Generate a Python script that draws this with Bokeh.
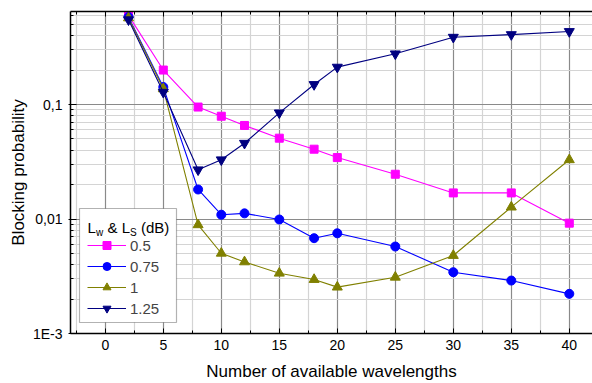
from bokeh.plotting import figure
from bokeh.models import (FixedTicker, LinearAxis, Legend, LegendItem, BoxAnnotation,
                          Range1d, Label, CustomJSTickFormatter, Node)
from bokeh.embed import file_html
from bokeh.resources import INLINE

# ---- data ----
wavelengths = [2, 5, 8, 10, 12, 15, 18, 20, 25, 30, 35, 40]
pb_050 = [0.60, 0.200, 0.095, 0.079, 0.0656, 0.0508, 0.0407, 0.0344, 0.0246, 0.0169, 0.0169, 0.0092]
pb_075 = [0.58, 0.142, 0.0181, 0.0109, 0.0112, 0.0099, 0.0068, 0.0075, 0.00575, 0.00343, 0.0029, 0.00222]
pb_100 = [0.57, 0.137, 0.0089, 0.00502, 0.00422, 0.00336, 0.00296, 0.00254, 0.0031, 0.0048, 0.0127, 0.0329]
pb_125 = [0.55, 0.128, 0.0269, 0.0329, 0.0459, 0.0846, 0.1495, 0.212, 0.277, 0.387, 0.408, 0.434]
series_labels = ["0.5", "0.75", "1", "1.25"]

x_ticks = [0, 5, 10, 15, 20, 25, 30, 35, 40]
x_minor = [-2.5, 2.5, 7.5, 12.5, 17.5, 22.5, 27.5, 32.5, 37.5, 42.5]
y_ticks = [0.001, 0.01, 0.1, 1.0]
y_tick_labels = ["1E-3", "0,01", "0,1", "1"]
y_minor = [m * 10.0 ** e for e in (-3, -2, -1) for m in range(2, 10)]

FONT = "Liberation Sans"

p = figure(width=592, height=383, y_axis_type="log",
           x_range=Range1d(-3, 42), y_range=Range1d(0.001, 0.649),
           output_backend="svg", toolbar_location=None,
           min_border_left=70, min_border_top=11, min_border_bottom=50, min_border_right=0)
p.outline_line_color = None
p.background_fill_color = "white"
p.border_fill_color = "white"

xt = FixedTicker(ticks=x_ticks, minor_ticks=x_minor)
yt = FixedTicker(ticks=y_ticks, minor_ticks=y_minor)

p.xaxis.ticker = xt
p.yaxis.ticker = yt
p.yaxis.formatter = CustomJSTickFormatter(
    args=dict(vals=y_ticks, labs=y_tick_labels),
    code="""for (let i = 0; i < vals.length; i++) {
              if (Math.abs(Math.log10(tick) - Math.log10(vals[i])) < 1e-6) return labs[i];
            }
            return '';""")

p.xgrid.ticker = xt
p.ygrid.ticker = yt
for g in (p.xgrid, p.ygrid):
    g.grid_line_color = "#8a8a8a"
    g.grid_line_width = 1.2
    g.minor_grid_line_color = "#d4d4d4"
    g.minor_grid_line_width = 1.2

def style_axis(ax):
    ax.axis_line_color = "black"
    ax.axis_line_width = 1.5
    ax.major_tick_line_color = "black"
    ax.minor_tick_line_color = "black"
    ax.major_tick_in = 5
    ax.major_tick_out = 0
    ax.minor_tick_in = 3
    ax.minor_tick_out = 0
    ax.major_label_text_font = FONT
    ax.major_label_text_font_size = "14px"
    ax.major_label_text_color = "black"
    ax.axis_label_text_font = FONT
    ax.axis_label_text_font_size = "17px"
    ax.axis_label_text_font_style = "normal"
    ax.axis_label_text_color = "black"

style_axis(p.xaxis[0])
style_axis(p.yaxis[0])
p.yaxis.major_tick_out = 2
p.yaxis.major_tick_in = 6
p.yaxis.axis_label = "Blocking probability"
p.yaxis.axis_label_standoff = 2
p.yaxis.major_label_standoff = 6
p.xaxis.axis_label = "Number of available wavelengths"
p.xaxis.major_label_standoff = 6
p.xaxis.axis_label_standoff = 9

top = LinearAxis(ticker=xt, formatter=CustomJSTickFormatter(code="return '';"))
style_axis(top)
top.major_label_standoff = 0
top.major_label_text_font_size = "0px"
p.add_layout(top, "above")

styles = [
    (pb_050, "#FF00FF", "square", 8),
    (pb_075, "#0000FF", "circle", 9),
    (pb_100, "#808000", "triangle", 10),
    (pb_125, "#000080", "inverted_triangle", 10),
]
items = []
for (vals, col, mk, sz), lab in zip(styles, series_labels):
    l = p.line(wavelengths, vals, line_color=col, line_width=1.1)
    s = p.scatter(wavelengths, vals, marker=mk, size=sz, fill_color=col, line_color=col)
    items.append(LegendItem(label=lab, renderers=[l, s]))

# legend frame
p.add_layout(BoxAnnotation(
    left=Node(target="frame", symbol="left", offset=9),
    right=Node(target="frame", symbol="left", offset=106),
    top=Node(target="frame", symbol="bottom", offset=-125),
    bottom=Node(target="frame", symbol="bottom", offset=-11),
    fill_color="white", fill_alpha=1, line_color="black", line_width=1.2))

# legend title with subscripts
title_parts = ["L", "w", "& L", "S", "(dB)"]
title_sizes = [15, 10, 15, 10, 15]
title_dx = [17, 25.4, 37, 59.5, 70.4]
title_dy = [0, -5, 0, -5, 0]
for txt, fs, dx, dy in zip(title_parts, title_sizes, title_dx, title_dy):
    p.add_layout(Label(x=dx, y=106 + dy, x_units="screen", y_units="screen",
                       text=txt, text_font=FONT, text_font_size=f"{fs}px",
                       text_baseline="middle", text_color="black"))

leg = Legend(items=items, location=(17, 15),
             label_text_font=FONT, label_text_font_size="15px",
             glyph_width=39, glyph_height=20, label_height=20, spacing=1, label_standoff=4,
             padding=0, margin=0, border_line_color=None,
             background_fill_alpha=0)
p.add_layout(leg, "center")

open("out.html", "w").write(file_html(p, INLINE))
